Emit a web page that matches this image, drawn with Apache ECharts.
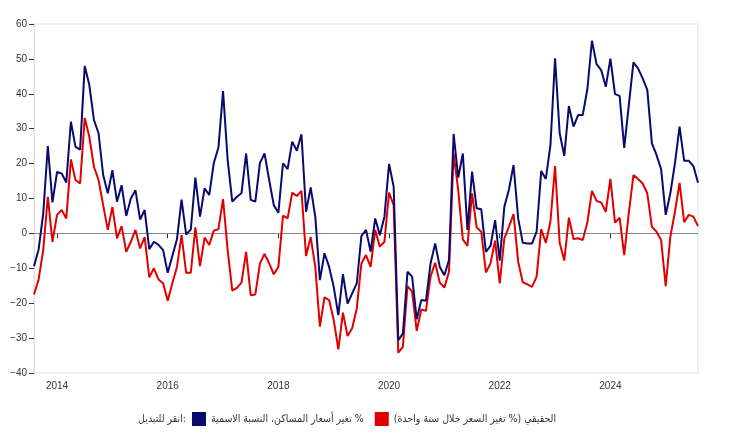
<!DOCTYPE html>
<html>
<head>
<meta charset="utf-8">
<script src="https://cdn.jsdelivr.net/npm/echarts@6/dist/echarts.min.js"></script>
<style>
html,body{margin:0;padding:0;background:#fff;}
#chart{width:740px;height:438px;}
</style>
</head>
<body>
<div id="chart"></div>
<script>
// Monthly data: Aug 2013 .. Aug 2025
const startYear = 2013, startMonth = 8, monthCount = 145;
const tickYears = [2014, 2016, 2018, 2020, 2022, 2024];

const LRM = '\u200E';
const nominalName = LRM + 'تغير أسعار المساكن، النسبة الاسمية %' + LRM;
const realName = LRM + 'الحقيقي (% تغير السعر خلال سنة واحدة)' + LRM;
const toggleLabel = LRM + 'انقر للتبديل:' + LRM;

const nominal = [
 -9.4,-4.6,5.7,25,8.9,17.6,17.2,14.6,32,24.8,24,48,42.5,32.5,28.7,16.7,11.5,18.1,9.1,13.8,
 5,10,12.4,4,6.7,-4.5,-2.4,-3.3,-4.8,-11.3,-6.5,-1.7,9.7,-0.3,1.1,16,4.8,12.9,11,20.2,
 24.6,40.8,21,9.1,10.5,11.5,22.9,9.6,9.1,20.2,22.9,15.3,8.1,5.9,20.1,18.4,26.3,23.7,28.4,6.2,
 13.2,4.8,-13.4,-5.7,-9.6,-15.3,-23.4,-11.7,-20.1,-17.2,-14.3,-0.8,1,-5.2,4.3,-0.5,4.8,19.9,13.4,-30.6,
 -28.7,-11,-12.4,-24.6,-19.1,-19.3,-8.6,-2.9,-9.6,-12,-7.6,28.5,16,22.9,1,17.7,7.2,6.9,-5.3,-3.6,
 3.8,-7.8,7.6,12.6,19.6,4.3,-2.7,-2.9,-2.9,0.5,17.9,15.6,25.3,50.2,28.7,22.2,36.5,30.6,33.9,33.9,
 41.3,55.2,48.5,46.8,42,50.1,39.9,39.4,24.5,36.8,49,47.3,44.4,41.1,25.8,22.5,18.4,5.3,11.5,20.1,
 30.6,20.8,20.8,19.3,14.5
];
const real = [
 -17.5,-13.2,-4.8,10.5,-2.4,5.3,6.7,4.3,21.2,15.3,14.3,33.1,27.7,19.1,15.3,8.1,1,7.6,-1.4,2.1,
 -5.3,-2.4,1,-4.3,-1.1,-12.6,-10,-13.2,-14.3,-19.3,-14.3,-9.6,-0.5,-11.3,-11.3,1.7,-9.4,-1.2,-3.3,0.8,
 1.2,9.8,-4.8,-16.4,-15.6,-14.1,-5.3,-17.7,-17.5,-8.6,-5.9,-8.6,-11.7,-9.6,5.1,4.3,11.7,10.7,12.2,-6.5,
 -1,-9.6,-26.7,-18.3,-19.1,-24.8,-33.2,-22.7,-29.4,-27.2,-21.5,-8.6,-6.2,-9.6,1,-3.8,-2.4,11.7,8.1,-34.2,
 -32.5,-15.1,-16.7,-27.9,-21.8,-22.2,-12.4,-8.4,-14.1,-15.5,-11,22.9,12.4,-1.7,-3.6,11.5,1.7,0.5,-11.2,-8.6,
 -2.1,-14.3,-1.4,1.9,5.5,-8.1,-14,-14.6,-15.3,-12.4,1.2,-2.7,3.4,19.3,-2.7,-7.8,4.5,-1.6,-1.4,-1.9,
 3.1,12.2,9.3,8.9,6.2,15.6,3.1,4.5,-6.2,5.9,16.7,15.6,14.3,11.5,1.9,0.5,-1.9,-15.1,-1,6.2,
 14.5,3.2,5.3,4.8,2.1
];

const months = [];
for (let k = 0; k < monthCount; k++) {
  const m0 = startMonth - 1 + k;
  const y = startYear + Math.floor(m0 / 12);
  const m = (m0 % 12) + 1;
  months.push(y + '-' + (m < 10 ? '0' + m : m));
}
function isTick(v) {
  const parts = v.split('-');
  return parts[1] === '01' && tickYears.indexOf(+parts[0]) >= 0;
}

const BLUE = '#0a0a6e';
const RED = '#e00000';
const FONT = 'Liberation Sans, Arial, sans-serif';
const AFONT = 'DejaVu Sans Condensed, DejaVu Sans, sans-serif';

const chart = echarts.init(document.getElementById('chart'));
chart.setOption({
  animation: false,
  backgroundColor: '#fff',
  grid: { left: 34, right: 42, top: 24, bottom: 65, show: true, borderColor: '#e0e0e0', borderWidth: 1 },
  legend: {
    left: 192, top: 412, padding: 0,
    itemWidth: 14, itemHeight: 14, itemGap: 11,
    icon: 'rect',
    textStyle: { fontSize: 10.5, color: '#333', fontFamily: AFONT },
    data: [
      { name: nominalName, itemStyle: { color: BLUE } },
      { name: realName, itemStyle: { color: RED } }
    ]
  },
  graphic: [{
    type: 'text', x: 186, y: 419,
    style: { text: toggleLabel, fontSize: 10.5, fill: '#333', fontFamily: AFONT, align: 'right', verticalAlign: 'middle' }
  }],
  xAxis: {
    type: 'category',
    data: months,
    boundaryGap: false,
    axisLine: { lineStyle: { color: '#ddd' } },
    axisTick: { show: true, length: 5, interval: (i, v) => isTick(v), lineStyle: { color: '#333' } },
    axisLabel: {
      interval: (i, v) => isTick(v),
      formatter: v => v.split('-')[0],
      fontSize: 10, color: '#333', margin: 8, fontFamily: FONT
    },
    splitLine: { show: false }
  },
  yAxis: {
    type: 'value', min: -40, max: 60, interval: 10,
    axisLine: { show: true, lineStyle: { color: '#ddd' } },
    axisTick: { show: true, length: 5, lineStyle: { color: '#333' } },
    axisLabel: {
      fontSize: 10, color: '#333', margin: 7, fontFamily: FONT,
      formatter: v => String(v).replace('-', '\u2212')
    },
    splitLine: { show: false }
  },
  series: [
    {
      name: nominalName, type: 'line', data: nominal, symbol: 'none',
      lineStyle: { color: BLUE, width: 2 }, itemStyle: { color: BLUE }, z: 3,
      markLine: {
        silent: true, symbol: 'none', label: { show: false },
        lineStyle: { color: '#888', width: 1, type: 'solid' },
        data: [{ yAxis: 0 }], z: 1
      }
    },
    {
      name: realName, type: 'line', data: real, symbol: 'none',
      lineStyle: { color: RED, width: 2 }, itemStyle: { color: RED }, z: 2
    }
  ]
});
</script>
</body>
</html>
